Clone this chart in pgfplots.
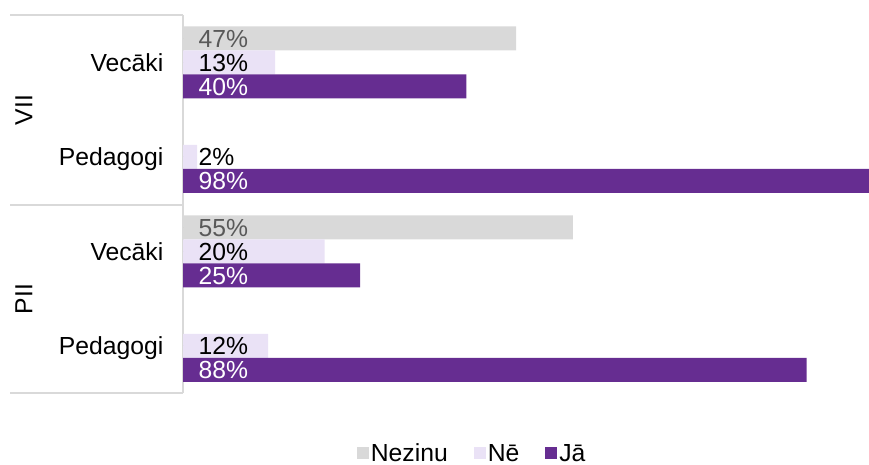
\documentclass[border=0pt]{standalone}
\usepackage{pgfplots}
\usepackage{pgfplotstable}
\pgfplotsset{compat=1.18}
\usepackage{fontspec}
\setmainfont{Liberation Sans}
\definecolor{cNez}{HTML}{D9D9D9}
\definecolor{cNe}{HTML}{EAE2F6}
\definecolor{cJa}{HTML}{662D91}
\definecolor{cLine}{HTML}{D9D9D9}
\definecolor{cTxt}{HTML}{595959}

\pgfplotstableread{
y val
3 47
1 55
}\nez
\pgfplotstableread{
y val
3 13
2 2
1 20
0 12
}\ne
\pgfplotstableread{
y val
3 40
2 98
1 25
0 88
}\ja

\pgfplotsset{
  sq legend/.style={legend image code/.code={\fill[##1, draw=none] (0pt,-6pt) rectangle (12pt,6pt);}},
  vlab/.style={only marks, mark=*, mark size=0pt, mark options={draw=none, fill=none}, forget plot,
    nodes near coords={\pgfmathprintnumber{\pgfplotspointmeta}\%}, point meta=explicit,
    every node near coord/.append style={anchor=base west, inner sep=0pt, xshift=15.5pt, yshift=-9pt, text=#1}},
}

\begin{document}
\begin{tikzpicture}[font=\fontsize{24.7}{29}\selectfont]
\useasboundingbox (0,0) rectangle (869pt,-464pt);
\draw[cLine, line width=1.5pt] (10pt,-15pt) -- (183pt,-15pt);
\draw[cLine, line width=1.5pt] (10pt,-205pt) -- (183pt,-205pt);
\draw[cLine, line width=1.5pt] (10pt,-393pt) -- (183pt,-393pt);
\draw[cLine, line width=1.5pt] (183pt,-15pt) -- (183pt,-393pt);
\node[rotate=90] at (24pt,-110pt) {VII};
\node[rotate=90] at (24pt,-299pt) {PII};
\begin{axis}[
  at={(183pt,-393pt)}, anchor=south west,
  width=686pt, height=378pt, scale only axis,
  xmin=0, xmax=96.8, ymin=-0.5, ymax=3.5,
  bar width=0.254,
  /pgf/number format/assume math mode=true,
  axis line style={draw=none},
  xtick=\empty,
  ytick={0,1,2,3}, yticklabels={Pedagogi,Vecāki,Pedagogi,Vecāki},
  major tick length=0pt,
  yticklabel style={anchor=base east, inner sep=0pt, xshift=-19.5pt, yshift=-9pt},
  legend style={at={(0.4215,-0.16)}, anchor=center, draw=none, fill=none,
    legend columns=-1, /tikz/column sep=0pt, nodes={inner ysep=0.5pt},
    /tikz/every even column/.append style={column sep=24pt}},
]
\addplot[xbar, bar shift=0.254, fill=cNez, draw=none, sq legend] table[x=val,y=y]{\nez};
\addlegendentry{Nezinu}
\addplot[xbar, bar shift=0, fill=cNe, draw=none, sq legend] table[x=val,y=y]{\ne};
\addlegendentry{Nē}
\addplot[xbar, bar shift=-0.254, fill=cJa, draw=none, sq legend] table[x=val,y=y]{\ja};
\addlegendentry{Jā}
\addplot[vlab=cTxt] table[x expr=0, y expr=\thisrow{y}+0.254, meta=val]{\nez};
\addplot[vlab=black] table[x expr=0, y expr=\thisrow{y}, meta=val]{\ne};
\addplot[vlab=white] table[x expr=0, y expr=\thisrow{y}-0.254, meta=val]{\ja};
\end{axis}
\end{tikzpicture}
\end{document}
